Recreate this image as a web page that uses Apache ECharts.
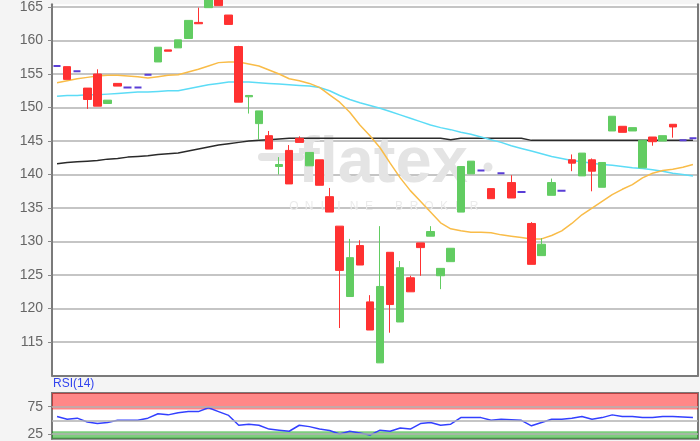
<!DOCTYPE html>
<html><head><meta charset="utf-8">
<script src="https://cdn.jsdelivr.net/npm/echarts@6/dist/echarts.min.js"></script>
<style>html,body{margin:0;padding:0;background:#f4f4f4}#c{width:700px;height:441px}</style>
</head><body><div id="c"></div>
<script>
const opens = [156.2,156.1,155.4,152.9,155.0,150.6,153.6,153.0,153.0,154.9,
  156.8,158.6,158.9,160.3,162.7,164.9,166.5,163.8,159.1,151.6,
  147.6,145.8,141.2,143.6,145.4,141.3,142.2,136.7,132.3,121.8,
  129.4,121.0,111.9,128.4,118.0,124.6,129.8,130.8,124.9,127.0,
  134.4,140.1,140.6,137.9,140.2,138.8,137.4,132.7,127.9,136.9,
  137.6,142.2,139.8,142.2,138.1,146.5,147.2,146.5,141.0,145.6,
  145.0,147.5,145.1,145.4];
const closes = [156.2,154.2,155.4,151.2,150.2,151.1,153.2,153.0,153.0,154.9,
  159.0,158.4,160.1,163.0,162.5,166.5,165.2,162.4,150.8,151.8,
  149.5,143.8,141.5,138.6,144.8,143.3,138.4,134.4,125.7,127.6,
  126.5,116.8,123.3,120.6,126.1,122.5,129.1,131.5,126.0,129.0,
  141.2,142.0,140.6,136.4,140.2,136.5,137.4,126.6,129.6,138.8,
  137.6,141.7,143.2,140.5,141.8,148.7,146.3,147.0,145.1,144.9,
  145.8,147.1,145.1,145.4];
const lows = [156.2,154.2,155.4,149.8,150.2,150.6,153.2,153.0,153.0,154.9,
  156.8,158.4,158.9,160.3,162.5,164.9,165.2,162.4,150.8,149.1,
  145.2,143.8,140.0,138.6,144.8,141.3,138.4,134.4,117.1,121.8,
  126.5,116.8,111.9,116.4,118.0,122.5,124.9,130.8,122.9,127.0,
  134.4,140.1,140.6,136.4,140.2,136.5,137.4,126.6,127.9,136.9,
  137.6,140.5,139.8,137.5,138.1,146.5,146.3,146.5,141.0,144.3,
  145.0,145.5,145.1,145.4];
const highs = [156.2,156.1,155.4,152.9,155.7,151.1,153.6,153.0,153.0,154.9,
  159.0,158.6,160.1,163.0,164.9,166.5,166.5,163.8,159.2,151.8,
  149.5,146.5,142.6,144.4,145.7,143.3,142.2,138.0,132.3,130.4,
  130.2,122.0,132.3,128.4,127.1,124.9,129.8,132.3,126.0,129.0,
  141.2,142.0,140.6,137.9,140.2,139.9,137.4,132.9,130.5,139.4,
  137.6,143.0,143.2,142.4,141.8,148.7,147.2,147.0,145.1,145.6,
  145.8,147.5,145.1,145.4];
const maShort = [153.7,154.0,154.3,154.5,154.7,154.8,154.8,154.7,154.6,154.4,
  154.6,154.8,154.9,155.3,155.7,156.2,156.7,156.8,156.8,156.5,
  156.2,155.6,155.0,154.3,154.0,153.6,153.0,151.9,150.8,149.3,
  147.4,145.8,144.0,141.7,139.5,137.6,136.0,134.4,132.8,131.9,
  131.6,131.4,131.4,131.3,131.0,130.8,130.6,130.4,130.4,130.9,
  131.6,132.7,134.0,135.0,136.0,137.0,137.8,138.5,139.5,140.2,
  140.6,140.8,141.1,141.5];
const maMid = [151.7,151.8,151.8,151.9,151.9,152.0,152.1,152.2,152.3,152.3,
  152.4,152.5,152.5,152.8,153.1,153.4,153.6,153.8,153.8,153.8,
  153.7,153.6,153.5,153.4,153.3,153.2,153.0,152.5,151.8,151.2,
  150.7,150.3,149.9,149.4,148.9,148.4,147.9,147.4,147.0,146.7,
  146.3,146.0,145.6,145.2,144.8,144.3,143.9,143.5,143.1,142.7,
  142.4,142.1,141.9,141.7,141.5,141.4,141.2,141.0,140.9,140.7,
  140.5,140.2,140.0,139.8];
const maLong = [141.6,141.8,141.9,142.0,142.1,142.3,142.4,142.6,142.7,142.8,
  143.0,143.1,143.2,143.5,143.8,144.1,144.4,144.6,144.8,145.0,
  145.1,145.2,145.3,145.4,145.4,145.4,145.4,145.4,145.4,145.4,
  145.4,145.4,145.4,145.4,145.4,145.4,145.4,145.4,145.4,145.2,
  145.4,145.4,145.4,145.4,145.4,145.4,145.4,145.1,145.1,145.1,
  145.1,145.1,145.1,145.1,145.1,145.1,145.1,145.1,145.1,145.1,
  145.1,145.1,145.1,145.1];
const rsi = [57,52,54,47,44,46,50,50,50,54,
  62,60,64,66,66,73,66,59,41,43,
  41,34,32,30,41,38.5,34,31.5,25,30,
  27,23,32,30,36,34,44,46,41,43,
  55,55,55,50,52,51,50,40,46,52,
  52,54,57,52,55,60,57,57,55,55,
  57,57,56,55];
const rsiBands = {over: [70, 100], under: [0, 30]};
const rsiGridValues = [25, 50, 75];
const rsiTickLabels = [25, 75];
const rsiVisibleRange = [16.4, 100];
const priceRange = [110, 165.4];
const priceStep = 5;
const categories = opens.map((_, i) => String(i + 1));
const watermarkWord = 'flatex';
const watermarkSub = 'ONLINE BROKER';

const chart = echarts.init(document.getElementById('c'), null, {renderer: 'canvas'});

const candleData = opens.map((o, i) => {
  const v = [o, closes[i], lows[i], highs[i]];
  return o === closes[i] ? {value: v, itemStyle: {borderWidth: 2}} : v;
});

const wmColor = '#e4e4e4';
const subLetters = watermarkSub.split('').map((ch, i) => ({
  type: 'text', silent: true, z: 1,
  style: {text: ch, x: 294 + i * 15, y: 207, align: 'center', verticalAlign: 'middle',
    font: '12px "Liberation Sans", Arial, sans-serif', fill: '#ebebeb'}
}));

const labelFont = {fontFamily: '"Liberation Sans", Arial, sans-serif', fontSize: 14, color: '#666'};
const gridLineStyle = {color: '#b2b2b2', width: 1.5, type: 'solid'};
const frameLine = {show: true, onZero: false, lineStyle: {color: '#7a7a7a', width: 2}};

chart.setOption({
  backgroundColor: '#f4f4f4',
  animation: false,
  grid: [
    {left: 52, right: 2, top: 0, height: 375.6, show: true, backgroundColor: '#fff', borderWidth: 0, z: 0},
    {left: 52, right: 2, top: 393, height: 48, show: true, backgroundColor: '#fff', borderColor: '#7a7a7a', borderWidth: 2, z: 0}
  ],
  graphic: [
    {type: 'rect', silent: true, z: 1, shape: {x: 258, y: 153, width: 46, height: 8, r: 4}, style: {fill: wmColor}},
    {type: 'text', silent: true, z: 1, style: {text: watermarkWord, x: 298, y: 164, verticalAlign: 'middle',
      font: 'bold 65px "Liberation Sans", Arial, sans-serif', fill: wmColor}},
    {type: 'circle', silent: true, z: 1, shape: {cx: 488, cy: 167, r: 4.5}, style: {fill: wmColor}},
    ...subLetters,
    {type: 'text', silent: true, z: 5, style: {text: 'RSI(14)', x: 53, y: 384, verticalAlign: 'middle',
      font: '12px "Liberation Sans", Arial, sans-serif', fill: '#3344ee'}}
  ],
  xAxis: [
    {type: 'category', gridIndex: 0, data: categories, boundaryGap: true, position: 'bottom',
      axisLine: frameLine, axisTick: {show: false}, axisLabel: {show: false}, splitLine: {show: false}},
    {type: 'category', gridIndex: 1, data: categories, boundaryGap: true,
      axisLine: {show: false}, axisTick: {show: false}, axisLabel: {show: false}, splitLine: {show: false}}
  ],
  yAxis: [
    {type: 'value', gridIndex: 0, min: priceRange[0], max: priceRange[1], interval: priceStep,
      axisLine: frameLine,
      axisTick: {show: true, length: 4, lineStyle: {color: '#888'}},
      axisLabel: Object.assign({margin: 9, showMinLabel: false, showMaxLabel: false,
        formatter: v => (v % priceStep === 0 ? String(v) : '')}, labelFont),
      splitLine: {show: true, showMinLine: false, showMaxLine: false, lineStyle: gridLineStyle}},
    {type: 'value', gridIndex: 1, min: rsiVisibleRange[0], max: rsiVisibleRange[1],
      axisLine: {show: true, lineStyle: {color: '#7a7a7a', width: 2}},
      axisTick: {show: true, length: 4, customValues: rsiTickLabels, lineStyle: {color: '#888'}},
      axisLabel: Object.assign({margin: 9, customValues: rsiTickLabels}, labelFont),
      splitLine: {show: false}},
    {type: 'value', gridIndex: 0, position: 'right', min: priceRange[0], max: priceRange[1], interval: priceStep,
      axisLine: frameLine, axisTick: {show: false}, axisLabel: {show: false}, splitLine: {show: false}}
  ],
  series: [
    {type: 'line', xAxisIndex: 1, yAxisIndex: 1, data: [], symbol: 'none', z: 1, silent: true,
      markLine: {silent: true, symbol: 'none', label: {show: false}, lineStyle: gridLineStyle,
        data: rsiGridValues.map(v => ({yAxis: v}))}},
    {type: 'line', xAxisIndex: 0, yAxisIndex: 0, data: maLong, symbol: 'none', z: 3,
      lineStyle: {color: '#2a2a2a', width: 1.5}},
    {type: 'line', xAxisIndex: 0, yAxisIndex: 0, data: maMid, symbol: 'none', z: 3,
      lineStyle: {color: '#5cdcf6', width: 1.5}},
    {type: 'line', xAxisIndex: 0, yAxisIndex: 0, data: maShort, symbol: 'none', z: 3,
      lineStyle: {color: '#f9bc48', width: 1.5}},
    {type: 'candlestick', xAxisIndex: 0, yAxisIndex: 0, data: candleData, barWidth: 8, z: 4,
      itemStyle: {color: '#62cc62', color0: '#ff3131', borderColor: '#62cc62', borderColor0: '#ff3131',
        borderColorDoji: '#5a3ed6', borderWidth: 1}},
    {type: 'line', xAxisIndex: 1, yAxisIndex: 1, data: rsi, symbol: 'none', z: 4,
      lineStyle: {color: '#3340ff', width: 1.5},
      markArea: {silent: true, data: [
        [{yAxis: rsiBands.over[0], itemStyle: {color: 'rgba(255,0,0,0.47)'}}, {yAxis: rsiBands.over[1]}],
        [{yAxis: rsiBands.under[0], itemStyle: {color: 'rgba(0,160,0,0.51)'}}, {yAxis: rsiBands.under[1]}]
      ]}}
  ]
});
</script></body></html>
